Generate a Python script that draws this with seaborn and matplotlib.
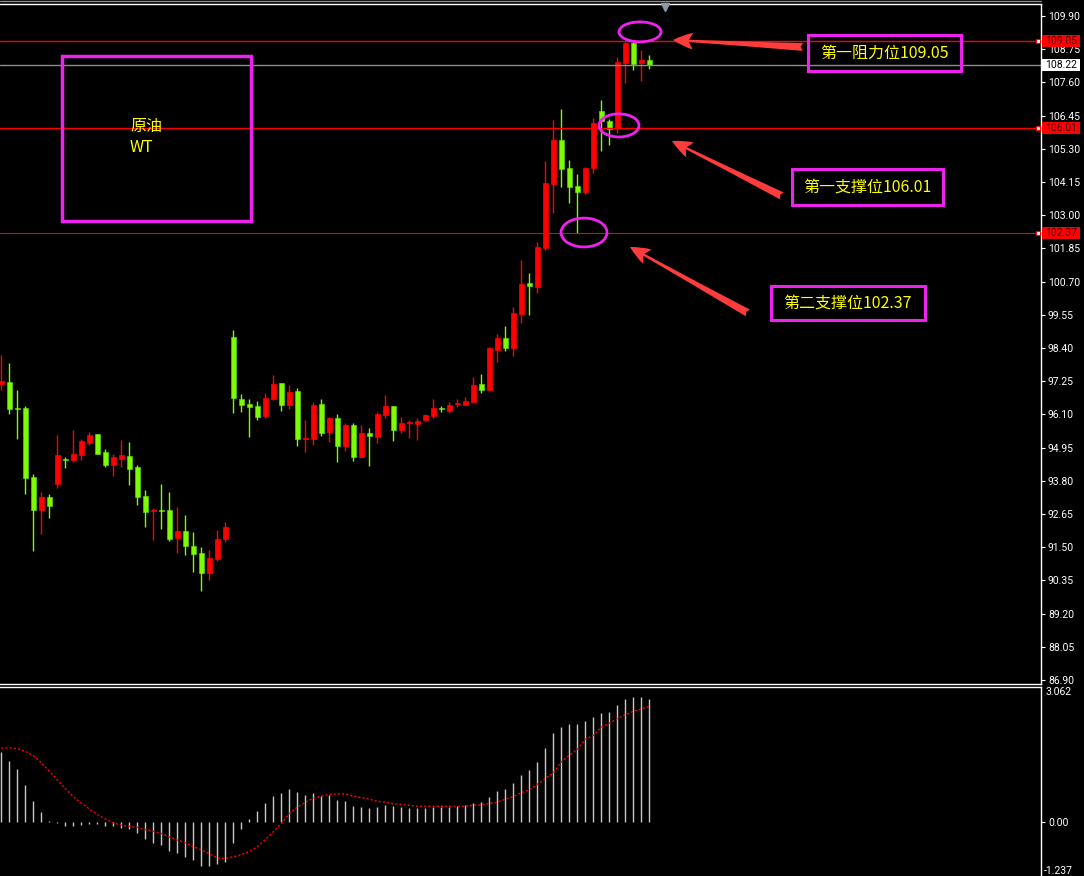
import numpy as np
import pandas as pd
import matplotlib
matplotlib.use('Agg')
import matplotlib.pyplot as plt
import seaborn as sns
from matplotlib.patches import Ellipse, Rectangle, FancyArrowPatch
from matplotlib.lines import Line2D
from matplotlib.transforms import blended_transform_factory

# OHLC values (red = up candle, green = down candle)
opens = [97.15, 97.22, 96.32, 96.32, 93.93, 92.80, 93.24, 93.70, 94.55, 94.52,
         94.69, 95.11, 95.42, 94.80, 94.35, 94.56, 94.66, 94.28, 93.27, 92.75,
         92.78, 92.79, 91.82, 92.06, 91.54, 91.30, 90.61, 91.09, 91.78, 98.78,
         96.63, 96.46, 96.39, 96.05, 96.63, 97.19, 96.43, 96.91, 95.25, 95.25,
         96.46, 95.49, 95.98, 95.01, 95.73, 94.62, 95.46, 95.32, 96.08, 96.39,
         95.56, 95.80, 95.77, 95.91, 96.05, 96.30, 96.22, 96.45, 96.43, 96.53,
         97.15, 96.95, 98.33, 98.75, 98.40, 99.58, 100.65, 100.51, 101.86, 104.08,
         105.61, 104.64, 104.01, 103.80, 104.64, 106.61, 106.26, 106.02, 108.27, 108.96,
         108.27, 108.38]
highs = [98.16, 97.88, 96.95, 96.39, 94.04, 93.41, 93.34, 95.39, 94.62, 95.56,
         95.25, 95.49, 95.43, 94.90, 94.73, 95.21, 95.14, 94.35, 93.48, 92.86,
         93.69, 93.41, 92.89, 92.62, 92.03, 91.51, 91.40, 92.10, 92.37, 99.02,
         96.81, 96.63, 96.56, 96.84, 97.47, 97.20, 97.12, 97.01, 95.91, 96.53,
         96.63, 96.01, 96.11, 95.80, 95.80, 95.73, 95.63, 96.18, 96.77, 96.40,
         96.01, 95.91, 95.98, 96.11, 96.63, 96.39, 96.53, 96.63, 96.70, 97.40,
         97.50, 98.42, 98.88, 99.16, 99.82, 101.45, 101.00, 102.07, 104.88, 106.30,
         106.68, 104.91, 104.43, 104.66, 106.37, 106.99, 106.33, 108.48, 109.00, 109.05,
         108.72, 108.55]
lows = [96.95, 96.11, 95.25, 93.34, 91.37, 91.96, 92.51, 93.55, 94.24, 94.45,
        94.52, 95.04, 94.72, 94.28, 93.97, 94.28, 93.65, 92.96, 92.20, 91.75,
        92.13, 91.72, 91.30, 91.23, 90.64, 89.98, 90.36, 91.02, 91.68, 96.15,
        96.18, 95.32, 95.91, 95.98, 96.60, 96.22, 96.29, 95.01, 94.80, 95.04,
        95.35, 95.14, 94.45, 94.83, 94.49, 94.62, 94.31, 95.11, 95.98, 95.18,
        95.46, 95.28, 95.21, 95.87, 95.98, 96.18, 96.15, 96.36, 96.42, 96.52,
        96.84, 96.93, 97.92, 98.30, 98.12, 99.27, 99.54, 100.31, 101.80, 103.08,
        103.98, 103.42, 102.37, 103.72, 104.46, 105.22, 105.43, 105.85, 107.58, 108.03,
        107.65, 108.06]
closes = [97.26, 96.30, 96.30, 93.91, 92.80, 93.24, 92.94, 94.69, 94.53, 94.73,
          95.18, 95.39, 94.73, 94.35, 94.62, 94.69, 94.21, 93.24, 92.72, 92.78,
          92.75, 91.78, 92.06, 91.54, 91.27, 90.61, 91.13, 91.78, 92.20, 96.67,
          96.43, 96.36, 96.01, 96.67, 97.15, 96.43, 96.88, 95.25, 95.28, 96.43,
          95.46, 95.98, 95.01, 95.73, 94.62, 95.46, 95.35, 96.11, 96.39, 95.56,
          95.80, 95.82, 95.87, 96.08, 96.32, 96.28, 96.43, 96.47, 96.56, 97.12,
          96.95, 98.40, 98.75, 98.40, 99.61, 100.62, 100.55, 101.90, 104.12, 105.61,
          104.60, 103.98, 103.80, 104.64, 106.19, 106.26, 105.99, 108.31, 108.96, 108.24,
          108.38, 108.22]

# MACD panel: histogram (main) and signal line
macd_hist = [1.58, 1.37, 1.19, 0.83, 0.47, 0.22, 0.02, -0.04, -0.09, -0.09,
             -0.07, -0.05, -0.06, -0.11, -0.11, -0.14, -0.16, -0.27, -0.39, -0.48,
             -0.54, -0.66, -0.72, -0.81, -0.88, -1.00, -1.02, -0.97, -0.91, -0.48,
             -0.16, 0.07, 0.25, 0.43, 0.59, 0.66, 0.75, 0.68, 0.61, 0.66,
             0.59, 0.61, 0.50, 0.47, 0.35, 0.33, 0.31, 0.33, 0.38, 0.35,
             0.33, 0.31, 0.31, 0.31, 0.33, 0.33, 0.33, 0.35, 0.38, 0.42,
             0.45, 0.56, 0.69, 0.74, 0.88, 1.06, 1.17, 1.35, 1.67, 2.01,
             2.16, 2.23, 2.23, 2.28, 2.39, 2.48, 2.50, 2.66, 2.80, 2.84,
             2.84, 2.80]
macd_signal = [1.67, 1.68, 1.66, 1.60, 1.50, 1.34, 1.15, 0.95, 0.75, 0.57,
               0.42, 0.29, 0.16, 0.06, -0.03, -0.08, -0.11, -0.13, -0.18, -0.22,
               -0.27, -0.35, -0.42, -0.48, -0.57, -0.64, -0.73, -0.83, -0.84, -0.80,
               -0.75, -0.68, -0.57, -0.41, -0.23, -0.04, 0.18, 0.33, 0.44, 0.53,
               0.58, 0.62, 0.63, 0.63, 0.58, 0.55, 0.51, 0.46, 0.44, 0.41,
               0.39, 0.37, 0.35, 0.35, 0.35, 0.35, 0.35, 0.35, 0.35, 0.37,
               0.38, 0.41, 0.44, 0.51, 0.57, 0.66, 0.72, 0.85, 0.98, 1.11,
               1.36, 1.51, 1.64, 1.87, 1.96, 2.15, 2.24, 2.34, 2.43, 2.51,
               2.56, 2.62]

price_ticks = [round(86.90 + 1.15 * k, 2) for k in range(21)]
resistance = 109.05
support_1 = 106.01
support_2 = 102.37
last_price = 108.22
macd_max, macd_min = 3.062, -1.237

df = pd.DataFrame({'open': opens, 'high': highs, 'low': lows, 'close': closes})
df['idx'] = np.arange(len(df))
df['up'] = df['close'] >= df['open']

sns.set_style('dark', {'axes.facecolor': 'black', 'figure.facecolor': 'black'})
plt.rcParams['font.family'] = ['Noto Sans CJK SC', 'DejaVu Sans']

W, H = 1084, 876
def fx(px):
    return px / W
def fy(py):
    return 1 - py / H

fig = plt.figure(figsize=(W / 100, H / 100), dpi=100)
fig.patch.set_facecolor('black')
ax = fig.add_axes([0, fy(684), fx(1041), fy(4) - fy(684)])
ax2 = fig.add_axes([0, 0, fx(1041), fy(687)])

xlim = (-1.3 / 8, (1041 - 1.3) / 8)

# candles
red, green = '#ff0000', '#7cfc00'
colors = np.where(df['up'], red, green)
edges = np.where(df['up'], red, '#5ccc00')
ax.vlines(df['idx'], df['low'], df['high'], colors=colors, lw=1)
body_bottom = np.minimum(df['open'], df['close'])
body_h = np.maximum((df['close'] - df['open']).abs(), 0.035)
ax.bar(df['idx'], body_h, bottom=body_bottom, width=0.6, color=colors,
       edgecolor=edges, linewidth=0.5)

# level lines
ax.axhline(last_price, color='#8c8c8c', lw=1)
ax.axhline(resistance, color='#ff0000', lw=1)
ax.axhline(support_1, color='#ff0000', lw=1)
ax.axhline(support_2, color='#d01010', lw=0.8)

ax.set_xlim(*xlim)
ax.set_ylim(109.9 - 668 / 28.87, 109.9 + 12 / 28.87)
ax.set_xticks([])
ax.yaxis.tick_right()
ax.set_yticks(price_ticks)
ax.set_yticklabels(['%.2f' % v for v in price_ticks])
ax.tick_params(axis='y', colors='white', length=3, width=0.8, direction='out',
               labelsize=7.5, pad=2, right=True, left=False)
for lab in ax.get_yticklabels():
    lab.set_fontfamily('Roboto')
ax.grid(False)
ax.spines['left'].set_visible(False)
for side in ['right', 'top', 'bottom']:
    ax.spines[side].set_visible(True)
    ax.spines[side].set_color('white')
    ax.spines[side].set_linewidth(1)

# price tags on the right
bt = blended_transform_factory(fig.transFigure, ax.transData)
bt_ax = blended_transform_factory(ax.transAxes, ax.transData)
tag_h = 12 / 28.87
for val, fc, tc in [(resistance, '#ff0000', '#400000'), (support_1, '#ff0000', '#400000'),
                    (support_2, '#ff0000', '#400000'), (last_price, 'white', 'black')]:
    r = Rectangle((fx(1042), val - tag_h / 2), fx(38), tag_h, transform=bt,
                  facecolor=fc, edgecolor='none', clip_on=False, zorder=5)
    ax.add_patch(r)
    ax.text(fx(1061), val, '%.2f' % val, transform=bt, ha='center', va='center',
            fontsize=7.5, color=tc, family='Roboto', zorder=6, clip_on=False)
for val in [resistance, support_1, support_2]:
    ax.plot([1038 / 1041], [val], transform=bt_ax, marker='s', ms=3.2, mfc='white',
            mec='#ff0000', mew=0.8, clip_on=False, zorder=6)

# top border / shift marker
fig.add_artist(Line2D([0, fx(1041)], [fy(1), fy(1)], color='#8c8c8c', lw=1))
fig.add_artist(Line2D([fx(665)], [fy(7)], marker='v', color='#8a9aa8', ms=6,
                      transform=fig.transFigure))

# ellipses around key candles
mag = '#ee22ee'
for cx, cy, w, h in [(79.84, 109.35, 5.25, 0.69), (77.21, 106.11, 5.0, 0.80),
                     (72.84, 102.40, 5.75, 1.0)]:
    ax.add_patch(Ellipse((cx, cy), w, h, fill=False, ec=mag, lw=2, zorder=7))

# label boxes
boxes = [(808, 35, 961, 71, '第一阻力位109.05'),
         (792, 169, 943, 205, '第一支撑位106.01'),
         (771, 286, 925, 320, '第二支撑位102.37')]
for x0, y0, x1, y1, txt in boxes:
    fig.add_artist(Rectangle((fx(x0), fy(y1)), fx(x1 - x0), fy(y0) - fy(y1),
                             transform=fig.transFigure, fill=False, ec=mag, lw=2.2))
    fig.text(fx((x0 + x1) / 2), fy((y0 + y1) / 2), txt, ha='center', va='center',
             color='#ffff00', fontsize=11.5)

fig.add_artist(Rectangle((fx(62), fy(221)), fx(189), fy(56) - fy(221),
                         transform=fig.transFigure, fill=False, ec=mag, lw=2.5))
fig.text(fx(130), fy(126), '原油', ha='left', va='center', color='#ffff00', fontsize=11.5)
fig.text(fx(130), fy(148), 'WT', ha='left', va='center', color='#ffff00', fontsize=11.5)

# arrows
for (x0, y0), (x1, y1) in [((803, 47), (673, 40)), ((782, 196), (672, 141)),
                           ((748, 313), (630, 247))]:
    fig.add_artist(FancyArrowPatch((fx(x0), fy(y0)), (fx(x1), fy(y1)),
                                   transform=fig.transFigure,
                                   arrowstyle='fancy,head_length=0.72,head_width=0.6,tail_width=0.28',
                                   mutation_scale=20, color='#ff3c3c', lw=0,
                                   shrinkA=0, shrinkB=0))

# MACD panel
ax2.vlines(df['idx'], 0, macd_hist, colors='#c8c8c8', lw=1)
sns.lineplot(x=df['idx'], y=macd_signal, ax=ax2, color='#ff0000', lw=1,
             linestyle=(0, (1.5, 1.5)), legend=False)
ax2.set_xlim(*xlim)
ax2.set_ylim(macd_min, macd_max)
ax2.set_xticks([])
ax2.set_xlabel('')
ax2.set_ylabel('')
ax2.yaxis.tick_right()
ax2.set_yticks([0])
ax2.set_yticklabels(['0.00'])
ax2.tick_params(axis='y', colors='white', length=3, width=0.8, direction='out',
                labelsize=7.5, pad=2, right=True, left=False)
for lab in ax2.get_yticklabels():
    lab.set_fontfamily('Roboto')
ax2.grid(False)
for side in ['left', 'bottom']:
    ax2.spines[side].set_visible(False)
for side in ['right', 'top']:
    ax2.spines[side].set_visible(True)
    ax2.spines[side].set_color('white')
    ax2.spines[side].set_linewidth(1)
bt2 = blended_transform_factory(ax2.transAxes, ax2.transData)
ax2.text(1.0 + fx(4) / fx(1041), macd_max, '%.3f' % macd_max, transform=bt2, ha='left',
         va='top', fontsize=7.5, color='white', family='Roboto', clip_on=False)
ax2.text(1.0 + fx(3) / fx(1041), macd_min, '%.3f' % macd_min, transform=bt2, ha='left',
         va='bottom', fontsize=7.5, color='white', family='Roboto', clip_on=False)

fig.savefig('out.png', dpi=100, facecolor='black')
